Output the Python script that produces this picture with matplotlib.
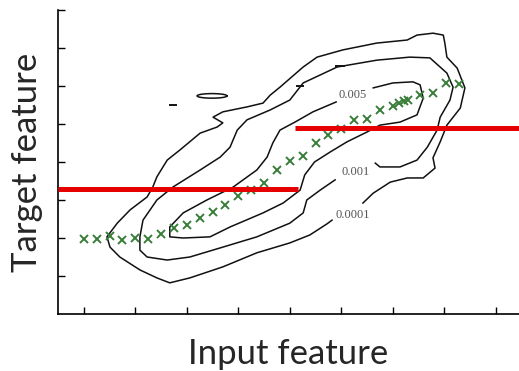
import numpy as np
import matplotlib.pyplot as plt

# regression estimates (green crosses)
est_x = [5, 7.5, 10, 12.5, 15, 17.5, 20, 22.5, 25, 27.5, 30, 32.5, 35, 37.5, 40, 42.5,
         45, 47.5, 50, 52.5, 55, 57.5, 60, 62.5, 65, 66.2, 67.2, 68, 70.3, 72.8, 75.3, 77.9]
est_y = [19.7, 19.7, 20.5, 19.5, 20.0, 19.7, 21.1, 22.6, 23.4, 25.3, 26.8, 28.7, 31.1, 32.6,
         34.5, 37.9, 40.3, 41.6, 45.0, 47.1, 48.7, 51.1, 51.3, 53.7, 54.7, 55.5, 56.1, 56.3,
         57.6, 58.2, 60.8, 60.5]

# density contour 0.0001 (outer)
c1_x = [59.2, 61.2, 64.5, 67.8, 70.9, 73.2, 72.8, 74.2, 75.5, 78.1, 79.0, 77.5, 75.5, 75.1,
        74.8, 72.8, 69.7, 67.8, 61.9, 55.3, 50.3, 47.6, 43.1, 41.2, 39.8, 36.7, 32.0, 30.1,
        32.0, 30.9, 27.6, 23.7, 21.2, 19.2, 18.4, 17.3, 14.0, 11.5, 9.5, 10.1, 12.0, 15.9,
        19.2, 21.7, 25.6, 32.0, 38.6, 45.0, 48.9, 52.2, 53.2]
c1_y = [29.2, 31.8, 34.7, 35.8, 35.8, 38.4, 41.1, 45.3, 49.7, 54.2, 59.5, 64.7, 67.6, 71.3,
        73.4, 73.9, 73.4, 72.1, 71.3, 69.5, 67.6, 65.0, 59.7, 57.6, 55.5, 54.5, 53.2, 51.8,
        50.3, 49.2, 47.6, 43.2, 40.5, 36.1, 33.4, 30.8, 27.4, 23.9, 20.3, 17.6, 15.0, 11.6,
        9.5, 8.2, 9.5, 12.4, 16.1, 18.7, 20.8, 23.7, 24.7]

# density contour 0.001 (middle)
c2_x = [61.6, 62.5, 66.4, 69.7, 71.7, 73.6, 74.2, 76.1, 76.7, 75.5, 72.2, 68.3, 61.9, 54.2,
        47.6, 45.0, 41.2, 36.7, 34.8, 33.4, 31.5, 27.6, 22.3, 19.2, 16.5, 15.9, 15.9, 17.3,
        21.2, 25.6, 32.0, 38.6, 45.0, 47.6, 48.3, 50.9, 53.8]
c2_y = [39.7, 38.7, 38.7, 40.5, 43.9, 48.4, 51.8, 56.3, 59.7, 63.4, 67.4, 67.6, 66.8, 65.0,
        60.8, 56.3, 53.7, 51.1, 48.4, 43.9, 41.3, 37.9, 33.4, 30.0, 24.7, 20.3, 16.8, 15.0,
        14.2, 15.0, 17.6, 20.3, 23.9, 26.6, 30.0, 32.6, 35.3]

# density contour 0.005 (inner)
c3_x = [54.0, 49.5, 46.0, 43.1, 41.7, 40.6, 38.6, 34.0, 28.9, 24.3, 21.7, 21.7, 24.3, 29.5,
        33.4, 39.8, 43.7, 47.0, 47.9, 49.8, 52.8, 56.1, 60.0, 62.5, 66.4, 69.7, 70.9, 70.3,
        68.9, 65.0, 61.2]
c3_y = [55.8, 53.2, 50.5, 48.4, 45.0, 41.3, 37.9, 33.4, 30.0, 26.6, 22.9, 20.3, 20.0, 20.3,
        22.9, 26.6, 29.2, 32.6, 36.6, 40.0, 42.6, 45.3, 47.9, 49.7, 50.5, 52.4, 56.8, 60.3,
        61.1, 60.8, 59.5]

contour_labels = ['0.005', '0.001', '0.0001']
label_x = [57.2, 57.7, 57.3]
label_y = [57.6, 37.4, 26.1]

# step-wise prediction (red)
step_x = [[0, 46.6], [46.0, 89.5]]
step_y = [32.9, 48.9]

fig = plt.figure(figsize=(5.19, 3.71), dpi=100)
ax = fig.add_axes([58/519, 57/371, 461/519, 304/371])

for cx, cy in [(c1_x, c1_y), (c2_x, c2_y), (c3_x, c3_y)]:
    ax.plot(cx, cy, color='#111111', lw=1.1, zorder=2)

# small islands of the outer contour
ax.plot([21.7, 22.9], [55.0, 55.0], color='#111111', lw=1.4)
ax.plot([46.4, 47.6], [60.0, 60.0], color='#111111', lw=1.4)
ax.plot([54.0, 55.5], [65.3, 65.3], color='#111111', lw=1.4)
t = np.linspace(0, 2*np.pi, 60)
ax.plot(29.9 + 2.9*np.cos(t), 57.4 + 0.6*np.sin(t), color='#111111', lw=1.1)

for s, lx, ly in zip(contour_labels, label_x, label_y):
    ax.text(lx, ly, s, fontsize=9, family='Liberation Serif', color='#555555',
            ha='center', va='center')

ax.plot(est_x, est_y, 'x', color='#3a7d3a', ms=6, mew=1.4, zorder=3)

for sx, sy in zip(step_x, step_y):
    ax.plot(sx, [sy, sy], color='#e60000', lw=3.6, solid_capstyle='butt', zorder=4)

ax.set_xlim(0, 89.5)
ax.set_ylim(0, 80)
ax.set_xticks(np.arange(5, 90, 10))
ax.set_yticks(np.arange(10, 81, 10))
ax.tick_params(direction='in', length=5, width=1, labelbottom=False, labelleft=False)
ax.spines['top'].set_visible(False)
ax.spines['right'].set_visible(False)
ax.spines['left'].set_linewidth(1.2)
ax.spines['bottom'].set_linewidth(1.2)

ax.set_xlabel('Input feature', fontsize=25, family='Lato', color='#262626', labelpad=17)
ax.set_ylabel('Target feature', fontsize=25, family='Lato', color='#262626', labelpad=11)

plt.savefig('out.png', dpi=100)
